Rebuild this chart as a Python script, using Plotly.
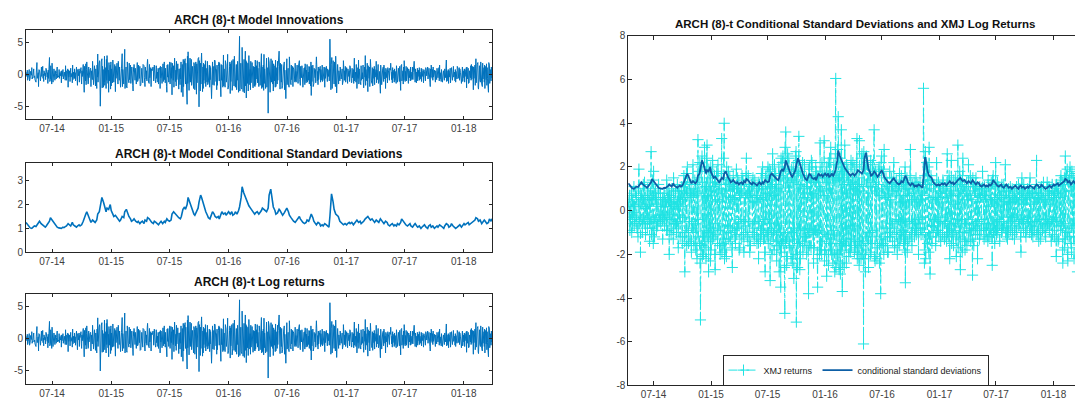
import pandas as pd
import plotly.graph_objects as go

# XMJ daily log returns (%), one value per trading day
log_returns = [
    0.4, -0.3, 0.7, -0.9, 0.2, -0.4, 0.8, -1.0, 0.3, -0.6, 0.5, -0.1, 1.1, -0.7, 0.2,
    -0.3, 0.9, -0.5, 0.6, -0.2, -0.8, -1.2, 0.4, 1.0, 1.9, -0.6, 0.3, -1.9, 0.8, -0.4,
    0.7, -1.0, 0.5, -0.5, 1.2, -0.3, 1.3, -0.6, 0.1, -1.1, 0.6, -0.2, 0.2, -0.8, 1.0,
    0.9, -0.4, 0.3, -1.4, 0.7, -0.6, 2.7, -1.1, 0.5, -0.8, 1.4, -1.5, 1.8, -0.5, 0.8,
    -1.2, 0.9, -0.3, 0.5, -0.9, 0.6, -0.7, 0.2, 1.0, 1.2, -0.5, -0.2, -0.4, 0.8, -0.6,
    0.3, -0.2, 0.5, -1.3, 0.6, -0.3, 0.8, -0.7, 0.2, -0.2, 0.4, -0.9, 1.4, -0.3, 0.6,
    -0.9, 0.5, 0.9, -2.0, 0.7, -0.4, 0.6, -1.1, 0.3, 1.0, -0.4, 0.2, -1.3, 1.5, -0.8,
    0.4, -0.6, 0.9, -0.6, 0.3, -1.0, 1.2, -0.5, 0.4, -1.7, 0.8, -0.2, 0.9, -1.2, 0.5,
    0.2, 1.1, -0.7, -1.5, 0.6, -0.3, 1.6, -1.2, 0.9, -2.8, 1.3, -1.0, 1.7, -1.6, 0.8,
    2.0, -0.9, -1.5, -1.4, 1.2, -0.5, 0.8, -1.3, 1.0, -1.9, 0.6, -0.8, 2.1, -1.0, 0.7,
    -1.6, 1.4, -0.6, 1.2, -1.8, 0.9, -2.2, 1.5, -0.4, 3.25, -1.2, 1.8, -1.5, 2.2, -2.4,
    -5.0, 2.0, -1.6, 2.5, -2.1, 1.3, -2.0, 0.8, -1.2, 2.9, -1.7, 1.1, -2.2, 2.4, -0.9,
    3.0, -1.4, 0.7, -2.8, 1.9, -1.0, 1.5, -2.3, 2.0, -1.8, 0.9, -1.3, 2.3, -0.8, 1.1,
    -1.2, 1.6, -2.0, -2.7, 1.3, -0.6, 1.8, -1.1, 0.5, -1.5, 2.1, -0.9, 1.2, -1.6, 0.4,
    -2.0, 1.0, 1.7, 3.3, -1.9, 0.8, -1.5, 2.4, -1.3, 4.0, -2.2, 1.2, -1.8, 0.9, -2.1,
    2.0, -0.7, 1.4, -1.3, 1.8, -0.8, 1.5, -1.4, 0.6, -1.0, 1.2, -1.7, -2.6, 1.1, 0.5,
    1.6, -0.9, 1.0, -1.2, 0.6, -1.5, 1.9, -1.1, 0.3, -0.8, 1.5, -0.6, 1.3, -1.8, 0.7,
    -1.7, 1.0, -0.4, 0.9, -1.3, 1.6, 1.4, -0.5, -1.1, -1.9, 1.2, -0.7, 0.6, -1.0, 1.7,
    2.4, -1.2, 0.8, -1.4, 1.6, -0.5, 1.1, -1.9, 0.9, -1.6, 0.6, 1.2, 0.7, -1.0, 0.4,
    1.5, -0.8, -1.3, -1.1, 1.4, -0.6, 0.4, -1.2, 1.0, -1.5, 0.7, 1.1, -2.2, 1.3, -0.5,
    1.2, -1.4, 0.6, -0.9, 1.7, -1.1, 2.0, -0.8, 0.5, -1.3, 1.0, -1.9, -2.8, 1.5, -0.4,
    1.6, -1.2, 0.8, -1.0, 2.0, -1.5, 1.9, -0.6, 1.1, -3.2, 1.8, -0.9, 1.4, -2.0, 1.2,
    2.6, -1.1, 0.7, -1.8, 2.1, -0.8, 1.7, -1.4, 1.2, -2.3, 0.9, -1.6, 1.0, -0.7, 2.0,
    -2.8, 1.6, -1.0, -3.5, 2.4, -1.9, 2.2, -1.3, 2.5, -1.5, 1.8, -2.6, -4.7, 2.9, -1.4,
    3.6, -2.5, 1.5, -2.1, 2.6, -1.2, 2.4, -1.7, 0.9, -1.6, 1.3, -2.2, 1.9, -1.0, 1.4,
    -2.4, 2.0, -0.8, -3.1, 1.7, -1.3, 2.5, -2.0, 2.7, -5.1, 2.2, -2.6, 1.8, -1.5, 2.3,
    3.4, -2.7, 1.2, -2.2, 1.8, -0.9, 1.6, -1.4, 2.2, -1.9, 1.0, -1.2, 2.1, -1.6, 0.6,
    -1.2, 1.5, -2.0, 1.4, -0.8, 1.1, -3.8, 1.9, -1.0, 2.0, -1.6, 1.3, -1.7, 2.3, -0.7,
    2.2, -1.1, 0.8, -2.4, 1.5, -1.7, 1.3, -0.9, 2.0, -1.0, 1.8, -2.2, -3.5, 1.6, -0.9,
    1.5, -2.0, 1.1, 3.1, -1.8, 0.9, -2.0, 2.2, -1.4, 1.5, -1.2, 0.7, 3.2, -2.3, 1.6,
    -1.8, 1.3, 2.0, -3.0, 1.7, -1.1, 2.2, -2.5, 1.0, -1.5, 2.4, -1.8, 2.9, -1.3, 0.8,
    -2.0, 1.6, -2.4, 1.5, -0.9, 2.1, -2.8, 1.4, 2.6, 6.05, -2.6, 1.8, -2.0, 2.8, -2.3,
    4.3, -2.7, 1.5, -1.5, 2.4, -2.9, 3.7, -1.8, 2.2, -3.7, 2.0, -1.4, 1.8, -2.6, 1.2,
    3.0, -1.6, 0.8, -2.4, 2.1, -1.3, 1.9, -0.8, 1.5, -2.1, 1.3, -1.8, 1.2, -1.9, 2.3,
    -1.6, 1.4, -0.7, 2.2, -1.3, 1.0, -1.9, 2.0, -1.4, 1.1, -1.7, 2.1, 3.3, -2.2, 1.2,
    -2.0, 1.5, -2.5, 3.2, -1.4, 0.9, -2.2, 2.4, -1.6, 2.6, -2.0, 1.1, -6.1, 2.7, -2.2,
    2.0, -2.8, 1.9, -1.8, 2.5, -1.2, 2.2, -1.5, 0.8, -2.6, 1.7, -1.0, 1.4, -2.0, 2.3,
    -1.9, 1.1, -1.5, 2.1, -0.9, 1.3, 3.7, -2.1, 1.6, -2.3, 1.8, -1.2, 1.6, -2.2, 0.9,
    -1.7, 1.2, 1.9, 2.0, -2.4, 0.7, -3.8, 2.2, -1.3, 2.5, -1.6, 1.0, -1.5, 1.9, -2.0,
    2.8, -1.2, 0.6, -1.6, 1.5, -0.8, 1.3, -1.9, 1.1, -1.9, 0.8, -1.2, 1.8, -1.0, 0.5,
    -1.2, 1.5, -0.6, 0.9, -1.4, 1.2, 2.2, -0.8, -1.6, -1.7, 1.3, -0.5, 1.4, -1.1, 0.9,
    -2.0, 1.0, -0.4, 1.1, -1.6, 1.7, -1.3, 0.7, -1.0, 1.6, -1.2, 0.4, -0.9, 1.3, -1.5,
    1.2, -1.8, 2.0, -3.3, 1.4, -1.1, 1.5, -1.9, 0.7, -1.4, 1.0, -0.5, 0.8, -1.3, 1.6,
    2.8, -1.0, 0.5, -1.6, 1.2, -0.8, 1.0, -0.6, 1.3, -1.2, 0.8, -0.9, 1.5, -1.1, 0.4,
    -0.8, 1.2, -0.4, -2.0, 1.1, -0.6, 1.3, -0.8, 0.5, -1.1, 0.9, -0.3, 0.7, -1.0, 1.2,
    5.6, -2.4, 1.6, -1.8, 2.7, -2.2, 2.2, -1.3, 1.4, -1.5, 2.0, -1.9, 2.9, -1.2, 1.0,
    -2.9, 1.6, -0.7, 1.4, -1.5, 0.6, -1.0, 1.2, -0.4, 1.2, -0.7, 0.9, -1.6, 0.5, -1.0,
    2.2, -0.9, 0.6, -0.9, 1.3, -1.2, 1.1, -0.5, 0.8, -1.4, 0.9, -0.3, 0.6, -1.1, 1.4,
    1.3, -0.6, -1.3, -1.2, 1.0, -0.5, 0.8, -1.4, 1.1, 2.6, -1.0, 0.4, -1.2, 1.6, -0.8,
    -2.2, 1.1, -0.6, 2.3, -1.5, 0.9, -1.1, 0.7, -1.6, 1.4, -0.9, 0.3, -0.7, 1.5, -1.2,
    -2.1, 1.2, -0.4, 3.0, -1.7, 0.8, -1.0, 1.8, -1.3, -2.7, 1.4, -0.6, 1.2, -1.9, 1.6,
    2.4, -1.0, 0.5, -1.4, 1.1, -1.8, 0.9, -0.6, 1.3, -1.6, 0.8, -0.4, 2.1, -1.3, 0.7,
    -0.8, 1.6, -1.4, 1.3, -0.9, 0.5, -2.95, 1.5, -0.8, 1.1, -1.6, 0.9, -0.6, 1.2, -1.1,
    1.5, -0.7, 0.4, -2.2, 1.0, -0.5, 0.8, -1.3, 1.1, -1.1, 0.6, -0.9, 1.0, -0.4, 0.7,
    1.8, -0.8, 0.4, -1.3, 1.1, -0.6, 0.7, -1.2, 0.9, -0.9, 0.5, -1.4, 1.4, -0.6, 0.2,
    -1.2, 1.0, -0.8, 0.5, -1.1, 1.3, -2.5, 1.4, -0.7, 1.6, -1.0, 0.6, -1.5, 1.2, -0.9,
    2.2, -1.1, 0.5, -0.8, 1.3, -1.0, 1.1, -0.4, 0.7, -1.4, 0.9, -0.5, 0.6, -1.0, 1.2,
    -0.9, 0.4, -0.7, 1.2, -0.8, 0.3, 2.1, -1.0, 0.6, -1.2, 0.9, -1.3, 0.4, -0.6, 1.0,
    -1.0, 0.7, -0.3, 1.1, -0.9, 0.4, -0.7, 1.0, -1.1, 0.9, -0.3, 0.6, -1.3, 0.8, -0.5,
    0.5, -1.0, 1.1, -0.8, 0.6, -0.2, 1.2, -0.7, 0.3, -0.6, 1.0, -1.2, -1.9, 0.9, -0.4,
    1.5, -0.6, 0.8, -0.9, 1.2, -0.4, 0.7, -1.0, 0.5, -1.2, 0.6, -0.8, 1.0, -0.3, 0.9,
    -0.5, 1.1, -1.0, 1.5, -0.7, 0.3, -1.1, 0.8, -0.5, 0.8, -1.2, 0.6, -0.7, 0.4, -0.9,
    0.9, -0.5, 1.2, 2.3, -1.1, 0.6, -1.0, 0.8, -1.4, 0.6, -0.4, 1.0, -1.3, 0.7, -0.6,
    1.1, -0.9, 0.5, -0.8, 1.3, -0.4, 0.4, -1.0, 0.8, -1.2, 0.5, -0.7, 1.3, -0.6, 0.9,
    -0.6, 1.1, -0.9, 0.9, -0.5, 0.3, -1.4, 0.7, -0.4, 1.2, -1.1, 0.6, -0.5, 0.9, -1.2,
    0.8, -0.3, 1.1, -2.1, 1.2, -0.7, 1.0, -1.4, 0.8, -1.3, 0.6, -0.5, 1.4, -0.9, 1.6,
    -0.7, 1.3, -1.8, -2.4, 1.2, -0.6, 1.5, -1.7, 0.9, 2.5, -1.3, 1.6, -1.0, 1.9, -2.0,
    -2.3, 1.4, -0.8, 1.6, -1.2, 2.0, -1.5, 0.9, -1.9, 1.8, -0.7, 1.1, -1.2, 1.5, -2.2,
    1.3, -0.8, 1.7, -1.7, 1.1, -0.6, -2.8, 1.9, -1.2, 1.5, -1.4, 0.8, -1.0, 1.2, -0.5,
    0.4,
]

# ARCH(8)-t conditional standard deviations, every third trading day
cond_std = [
    1.25, 1.15, 1.08, 1.02, 1.0, 1.05, 1.1, 1.08, 1.15, 1.25,
    1.3, 1.2, 1.15, 1.1, 1.05, 1.1, 1.2, 1.3, 1.45, 1.35,
    1.3, 1.2, 1.1, 1.05, 1.02, 1.0, 1.0, 1.05, 1.03, 1.08,
    1.1, 1.2, 1.15, 1.1, 1.25, 1.15, 1.1, 1.05, 1.1, 1.15,
    1.1, 1.15, 1.3, 1.45, 1.6, 1.7, 1.5, 1.35, 1.25, 1.35,
    1.3, 1.25, 1.35, 1.6, 1.7, 1.9, 2.3, 2.1, 1.9, 1.7,
    1.85, 1.8, 2.0, 1.75, 1.6, 1.5, 1.55, 1.45, 1.4, 1.3,
    1.35, 1.5, 1.45, 1.7, 1.8, 1.65, 1.5, 1.4, 1.3, 1.35,
    1.4, 1.3, 1.25, 1.3, 1.2, 1.25, 1.3, 1.2, 1.35, 1.3,
    1.45, 1.4, 1.3, 1.25, 1.2, 1.3, 1.25, 1.2, 1.15, 1.25,
    1.3, 1.2, 1.3, 1.25, 1.4, 1.35, 1.3, 1.35, 1.6, 1.7,
    1.65, 1.55, 1.5, 1.45, 1.4, 1.5, 1.8, 1.9, 1.8, 2.0,
    2.3, 2.1, 1.9, 1.75, 1.6, 1.55, 1.7, 1.85, 2.1, 2.4,
    2.3, 2.05, 1.85, 1.7, 1.55, 1.45, 1.4, 1.55, 1.7, 1.6,
    1.5, 1.45, 1.5, 1.4, 1.55, 1.7, 1.6, 1.65, 1.55, 1.65,
    1.7, 1.6, 1.7, 1.55, 1.6, 1.7, 1.6, 1.75, 1.9, 2.3,
    2.75, 2.5, 2.3, 2.2, 2.0, 1.95, 1.85, 1.75, 1.7, 1.6,
    1.65, 1.7, 1.6, 1.65, 1.75, 1.85, 1.8, 1.75, 1.7, 1.85,
    2.4, 2.65, 2.2, 1.9, 1.75, 1.6, 1.65, 1.8, 1.75, 1.6,
    1.55, 1.65, 1.8, 1.85, 1.7, 1.55, 1.45, 1.35, 1.3, 1.25,
    1.3, 1.4, 1.5, 1.4, 1.3, 1.25, 1.2, 1.25, 1.35, 1.3,
    1.4, 1.6, 1.45, 1.3, 1.2, 1.15, 1.25, 1.2, 1.1, 1.15,
    1.1, 1.2, 1.15, 1.1, 1.05, 1.5, 2.45, 2.1, 1.8, 1.6,
    1.55, 1.5, 1.3, 1.25, 1.2, 1.15, 1.2, 1.15, 1.2, 1.25,
    1.2, 1.25, 1.15, 1.2, 1.3, 1.35, 1.25, 1.3, 1.2, 1.25,
    1.3, 1.4, 1.45, 1.5, 1.4, 1.35, 1.4, 1.3, 1.25, 1.35,
    1.3, 1.25, 1.4, 1.35, 1.25, 1.2, 1.3, 1.25, 1.15, 1.1,
    1.15, 1.2, 1.1, 1.15, 1.1, 1.2, 1.15, 1.25, 1.4, 1.3,
    1.25, 1.15, 1.1, 1.15, 1.2, 1.1, 1.05, 1.15, 1.2, 1.1,
    1.05, 1.1, 1.0, 1.05, 1.1, 1.15, 1.05, 1.0, 1.1, 1.15,
    1.05, 1.1, 1.0, 1.05, 1.1, 1.05, 1.15, 1.1, 1.05, 1.0,
    1.1, 1.2, 1.15, 1.05, 1.1, 1.2, 1.1, 1.05, 1.0, 1.05,
    1.1, 1.15, 1.05, 1.1, 1.2, 1.15, 1.2, 1.25, 1.15, 1.2,
    1.25, 1.3, 1.35, 1.45, 1.4, 1.3, 1.35, 1.2, 1.25, 1.35,
    1.3, 1.2, 1.25, 1.4, 1.3, 1.4,
]

# the fitted mean is negligible, so the innovations follow the returns
innovations = list(log_returns)

tick_dates = ["2014-07-01", "2015-01-01", "2015-07-01", "2016-01-01",
              "2016-07-01", "2017-01-01", "2017-07-01", "2018-01-01"]
tick_labels = ["07-14", "01-15", "07-15", "01-16", "07-16", "01-17", "07-17", "01-18"]

dates = pd.bdate_range("2014-04-11", periods=len(log_returns), freq="B")
std_dates = dates[::3][:len(cond_std)]

W, H = 1075, 409
LINE_BLUE = "#0072BD"
CYAN = "#1fe3e3"
DARK_BLUE = "#0d5fa6"
AX = "#262626"
FONT = "Liberation Sans, Arial, sans-serif"
TICKFONT = dict(family=FONT, size=10, color="#404040")


def xdom(x0, x1):
    return [x0 / W, x1 / W]


def ydom(top, bottom):
    return [1 - bottom / H, 1 - top / H]


def base_axis(**kw):
    d = dict(showline=True, linecolor=AX, linewidth=1, ticks="inside", ticklen=3,
             tickcolor=AX, showgrid=False, zeroline=False, tickfont=TICKFONT)
    d.update(kw)
    return d


def signed(v):
    return str(v).replace("\u2212", "-")


fig = go.Figure()

fig.add_trace(go.Scatter(x=dates, y=innovations, xaxis="x", yaxis="y", mode="lines",
                         line=dict(color=LINE_BLUE, width=1), showlegend=False,
                         hoverinfo="skip"))
fig.add_trace(go.Scatter(x=std_dates, y=cond_std, xaxis="x2", yaxis="y2", mode="lines",
                         line=dict(color=LINE_BLUE, width=1.6), showlegend=False,
                         hoverinfo="skip"))
fig.add_trace(go.Scatter(x=dates, y=log_returns, xaxis="x3", yaxis="y3", mode="lines",
                         line=dict(color=LINE_BLUE, width=1), showlegend=False,
                         hoverinfo="skip"))

fig.add_trace(go.Scatter(x=dates, y=log_returns, xaxis="x4", yaxis="y4", mode="lines+markers",
                         name="XMJ returns",
                         line=dict(color=CYAN, width=1, dash="dashdot"),
                         marker=dict(symbol="cross-thin", size=8, color=CYAN,
                                     line=dict(color=CYAN, width=1))))
fig.add_trace(go.Scatter(x=std_dates, y=cond_std, xaxis="x4", yaxis="y4", mode="lines",
                         name="conditional standard deviations",
                         line=dict(color=DARK_BLUE, width=1.8)))

left_range = [dates[0], dates[-1]]
layout = dict(
    width=W, height=H, margin=dict(l=0, r=0, t=0, b=0),
    paper_bgcolor="white", plot_bgcolor="white",
)
ret_ticks = [-5, 0, 5]
std_ticks = [0, 1, 2, 3]
big_ticks = [-8, -6, -4, -2, 0, 2, 4, 6, 8]

layout["xaxis"] = base_axis(domain=xdom(26, 492), range=left_range, anchor="y",
                            tickvals=tick_dates, ticktext=tick_labels, mirror="ticks")
layout["yaxis"] = base_axis(domain=ydom(26, 117), range=[-7, 7], anchor="x",
                            tickvals=ret_ticks, ticktext=[signed(v) for v in ret_ticks],
                            mirror="ticks")
layout["xaxis2"] = base_axis(domain=xdom(26, 492), range=left_range, anchor="y2",
                             tickvals=tick_dates, ticktext=tick_labels, mirror="ticks")
layout["yaxis2"] = base_axis(domain=ydom(162.3, 254), range=[0, 3.75], anchor="x2",
                             tickvals=std_ticks, ticktext=[str(v) for v in std_ticks],
                             mirror="ticks")
layout["xaxis3"] = base_axis(domain=xdom(26, 492), range=left_range, anchor="y3",
                             tickvals=tick_dates, ticktext=tick_labels, mirror="ticks")
layout["yaxis3"] = base_axis(domain=ydom(296.7, 389.3), range=[-7, 7], anchor="x3",
                             tickvals=ret_ticks, ticktext=[signed(v) for v in ret_ticks],
                             mirror="ticks")
layout["xaxis4"] = base_axis(domain=xdom(628.3, W), range=["2014-04-11", "2018-03-11"],
                             anchor="y4", tickvals=tick_dates, ticktext=tick_labels,
                             mirror="ticks", ticklen=4)
layout["yaxis4"] = base_axis(domain=ydom(31.7, 391), range=[-8, 8], anchor="x4",
                             tickvals=big_ticks, ticktext=[signed(v) for v in big_ticks],
                             ticklen=4)

layout["legend"] = dict(orientation="h", x=855.5 / W, xanchor="center",
                        y=1 - 375.2 / H, yanchor="middle",
                        bordercolor=AX, borderwidth=1, bgcolor="white",
                        font=dict(family=FONT, size=9, color="#222222"),
                        itemwidth=30, tracegroupgap=0)

titles = [
    ("ARCH (8)-t Model Innovations", 259, 15, 12),
    ("ARCH (8)-t Model Conditional Standard Deviations", 259, 152.7, 12),
    ("ARCH (8)-t Log returns", 259, 285, 12),
    ("ARCH (8)-t Conditional Standard Deviations and XMJ Log Returns", 854.5, 20, 11.5),
]
layout["annotations"] = [
    dict(text="<b>%s</b>" % t, x=x / W, y=1 - y / H, xref="paper", yref="paper",
         xanchor="center", yanchor="middle", showarrow=False,
         font=dict(family=FONT, size=s, color="#111111"))
    for t, x, y, s in titles
]

fig.update_layout(**layout)
fig.write_html("out.html")
